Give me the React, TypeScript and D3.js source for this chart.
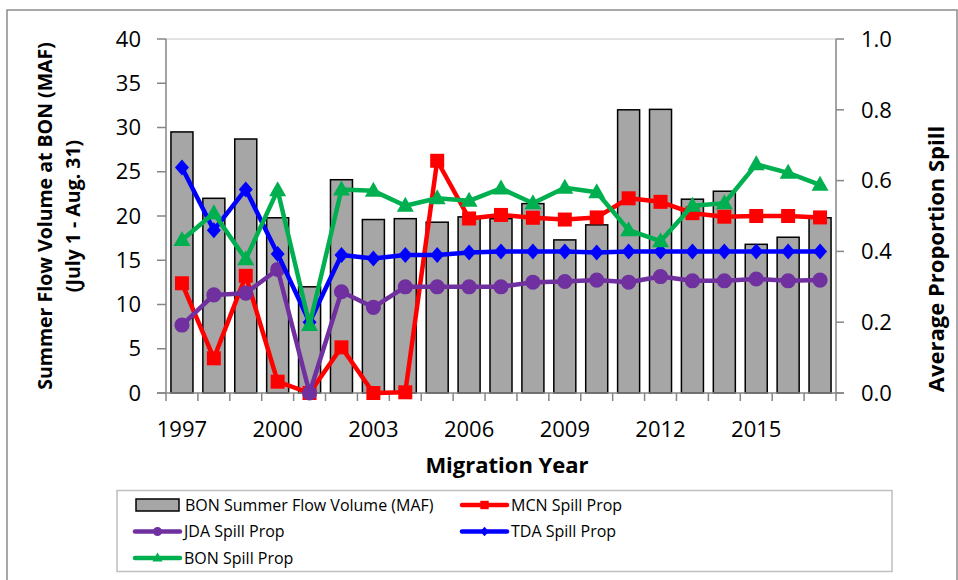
import React, { useRef, useEffect } from 'react';
import * as d3 from 'd3';

const years = [1997, 1998, 1999, 2000, 2001, 2002, 2003, 2004, 2005, 2006, 2007, 2008, 2009, 2010, 2011, 2012, 2013, 2014, 2015, 2016, 2017];
const flowVolume = [29.5, 22.0, 28.7, 19.8, 12.0, 24.1, 19.6, 19.7, 19.3, 19.9, 19.7, 21.4, 17.3, 19.0, 32.0, 32.05, 21.9, 22.8, 16.8, 17.6, 19.8];
const mcnSpill = [0.31, 0.098, 0.331, 0.032, 0.0, 0.129, 0.0, 0.002, 0.656, 0.493, 0.503, 0.495, 0.49, 0.496, 0.55, 0.54, 0.508, 0.498, 0.50, 0.50, 0.496];
const jdaSpill = [0.192, 0.277, 0.282, 0.349, 0.0, 0.286, 0.242, 0.30, 0.30, 0.30, 0.30, 0.313, 0.315, 0.319, 0.313, 0.329, 0.317, 0.317, 0.322, 0.317, 0.319];
const tdaSpill = [0.637, 0.46, 0.575, 0.393, 0.20, 0.39, 0.38, 0.39, 0.39, 0.397, 0.40, 0.40, 0.40, 0.397, 0.40, 0.40, 0.40, 0.40, 0.40, 0.40, 0.40];
const bonSpill = [0.432, 0.508, 0.378, 0.573, 0.192, 0.575, 0.571, 0.529, 0.55, 0.543, 0.578, 0.536, 0.58, 0.567, 0.46, 0.429, 0.529, 0.536, 0.646, 0.622, 0.588];
const leftTicks = [0, 5, 10, 15, 20, 25, 30, 35, 40];
const rightTicks = [0, 0.2, 0.4, 0.6, 0.8, 1.0];
const yearLabels = [1997, 2000, 2003, 2006, 2009, 2012, 2015];

const FONT = "'Open Sans', 'Liberation Sans', sans-serif";

// marker shapes
const markerPath: Record<string, string> = {
    square: 'M-7,-7L7,-7L7,7L-7,7Z',
    circle: d3.symbol(d3.symbolCircle, 180)()!,
    diamond: 'M0,-8L7,0L0,8L-7,0Z',
    triangle: 'M0,-9L8.5,6L-8.5,6Z',
};

const series = [
    { name: 'MCN Spill Prop', values: mcnSpill, color: '#FF0000', marker: 'square' },
    { name: 'JDA Spill Prop', values: jdaSpill, color: '#7030A0', marker: 'circle' },
    { name: 'TDA Spill Prop', values: tdaSpill, color: '#0000FF', marker: 'diamond' },
    { name: 'BON Spill Prop', values: bonSpill, color: '#00B050', marker: 'triangle' },
];

const Chart: React.FC = () => {
    const ref = useRef<SVGSVGElement>(null);

    useEffect(() => {
        const svg = d3.select(ref.current);
        svg.selectAll('*').remove();

        const left = 166, right = 836, top = 39, bottom = 393;

        const x = d3.scaleBand<number>().domain(years).range([left, right]).paddingInner(0.31).paddingOuter(0.155);
        const xb = d3.scaleBand<number>().domain(years).range([left, right]);
        const y = d3.scaleLinear().domain([0, 40]).range([bottom, top]);
        const y2 = d3.scaleLinear().domain([0, 1]).range([bottom, top]);

        // outer frame
        svg.append('rect')
            .attr('x', 7).attr('y', 10).attr('width', 950).attr('height', 600)
            .attr('fill', 'none').attr('stroke', '#8C8C8C').attr('stroke-width', 1.5);

        // plot area top border
        svg.append('line')
            .attr('x1', left).attr('x2', right).attr('y1', top).attr('y2', top)
            .attr('stroke', '#D9D9D9').attr('stroke-width', 1.5);

        // bars
        svg.append('g').selectAll('rect')
            .data(years)
            .enter()
            .append('rect')
            .attr('x', d => x(d)!)
            .attr('y', (d, i) => y(flowVolume[i]))
            .attr('width', x.bandwidth())
            .attr('height', (d, i) => bottom - y(flowVolume[i]))
            .attr('fill', '#A6A6A6')
            .attr('stroke', '#000')
            .attr('stroke-width', 1.5);

        // axes
        const axisColor = '#868686';
        const axes = svg.append('g').attr('stroke', axisColor).attr('stroke-width', 1.5);
        axes.append('line').attr('x1', left).attr('x2', left).attr('y1', top).attr('y2', bottom);
        axes.append('line').attr('x1', right).attr('x2', right).attr('y1', top).attr('y2', bottom);
        axes.append('line').attr('x1', left - 9).attr('x2', right + 8).attr('y1', bottom).attr('y2', bottom);
        leftTicks.forEach(t => {
            axes.append('line').attr('x1', left - 9).attr('x2', left).attr('y1', y(t)).attr('y2', y(t));
        });
        rightTicks.forEach(t => {
            axes.append('line').attr('x1', right).attr('x2', right + 8).attr('y1', y2(t)).attr('y2', y2(t));
        });
        years.forEach(yr => {
            const bx = xb(yr)!;
            axes.append('line').attr('x1', bx).attr('x2', bx).attr('y1', bottom).attr('y2', bottom + 8);
        });
        axes.append('line').attr('x1', right).attr('x2', right).attr('y1', bottom).attr('y2', bottom + 8);

        // tick labels
        const labels = svg.append('g').style('font-family', FONT).style('font-size', '22px').attr('fill', '#000');
        leftTicks.forEach(t => {
            labels.append('text').attr('x', 141).attr('y', y(t)).attr('dy', '0.35em')
                .attr('text-anchor', 'end').text(t);
        });
        rightTicks.forEach(t => {
            labels.append('text').attr('x', 861).attr('y', y2(t)).attr('dy', '0.35em')
                .attr('text-anchor', 'start').text(t.toFixed(1));
        });
        yearLabels.forEach(yr => {
            labels.append('text').attr('x', xb(yr)! + xb.bandwidth() / 2).attr('y', 437)
                .attr('text-anchor', 'middle').text(yr);
        });

        // axis titles
        const titles = svg.append('g').style('font-family', FONT).style('font-weight', 'bold');
        titles.append('text').attr('x', 507).attr('y', 473).attr('text-anchor', 'middle')
            .style('font-size', '22px').text('Migration Year');
        titles.append('text').attr('transform', `translate(52,216) rotate(-90)`).attr('text-anchor', 'middle')
            .style('font-size', '19.5px').text('Summer Flow Volume at BON (MAF)');
        titles.append('text').attr('transform', `translate(80,216) rotate(-90)`).attr('text-anchor', 'middle')
            .style('font-size', '19.5px').text('(July 1 - Aug. 31)');
        titles.append('text').attr('transform', `translate(944,259) rotate(-90)`).attr('text-anchor', 'middle')
            .style('font-size', '22px').text('Average Proportion Spill');

        // lines + markers
        const cx = (i: number) => xb(years[i])! + xb.bandwidth() / 2;
        series.forEach(s => {
            const line = d3.line<number>().x((d, i) => cx(i)).y(d => y2(d));
            svg.append('path')
                .attr('d', line(s.values)!)
                .attr('fill', 'none')
                .attr('stroke', s.color)
                .attr('stroke-width', 4.5)
                .attr('stroke-linejoin', 'round');
            svg.append('g').selectAll('path')
                .data(s.values)
                .enter()
                .append('path')
                .attr('d', markerPath[s.marker])
                .attr('transform', (d, i) => `translate(${cx(i)},${y2(d)})`)
                .attr('fill', s.color);
        });

        // legend
        const lg = svg.append('g').style('font-family', FONT).style('font-size', '16px');
        lg.append('rect').attr('x', 117).attr('y', 490.5).attr('width', 775).attr('height', 81)
            .attr('fill', '#fff').attr('stroke', '#BFBFBF').attr('stroke-width', 1.5);
        const rowY = [505, 531.5, 558];
        lg.append('rect').attr('x', 136).attr('y', rowY[0] - 6).attr('width', 43).attr('height', 12)
            .attr('fill', '#A6A6A6').attr('stroke', '#000').attr('stroke-width', 1.5);
        lg.append('text').attr('x', 185).attr('y', rowY[0]).attr('dy', '0.35em').text('BON Summer Flow Volume (MAF)');
        const slots = [
            { sx: 462, ty: rowY[0] },
            { sx: 135, ty: rowY[1] },
            { sx: 462, ty: rowY[1] },
            { sx: 135, ty: rowY[2] },
        ];
        series.forEach((s, i) => {
            const slot = slots[i];
            lg.append('line').attr('x1', slot.sx).attr('x2', slot.sx + 45).attr('y1', slot.ty).attr('y2', slot.ty)
                .attr('stroke', s.color).attr('stroke-width', 4.5).attr('stroke-linecap', 'round');
            lg.append('path').attr('d', markerPath[s.marker])
                .attr('transform', `translate(${slot.sx + 22.5},${slot.ty}) scale(0.6)`)
                .attr('fill', s.color);
            lg.append('text').attr('x', slot.sx + 49).attr('y', slot.ty).attr('dy', '0.35em').text(s.name);
        });
    }, []);

    return <svg ref={ref} width={958} height={580} style={{ position: 'absolute', left: 0, top: 0 }} />;
};

export default function App() {
    return <Chart />;
}
